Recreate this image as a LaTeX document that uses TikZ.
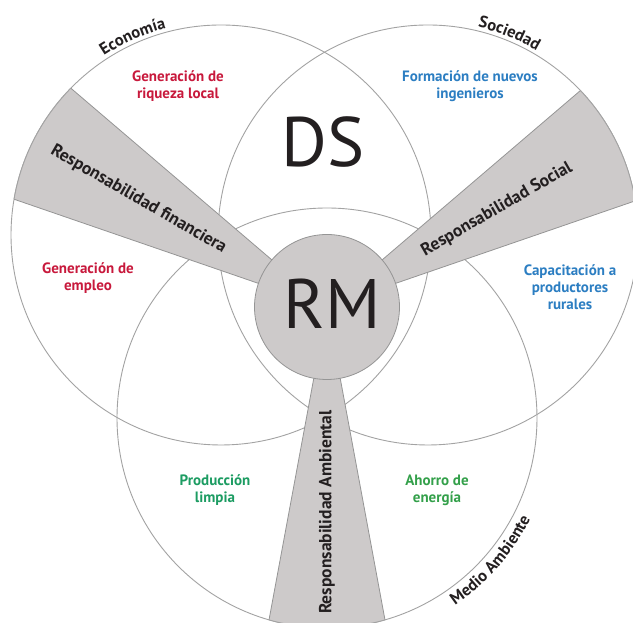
\documentclass[tikz,border=0pt]{standalone}
\usepackage{fontspec}
\setmainfont{PT Sans}
\usetikzlibrary{calc}
\definecolor{cline}{HTML}{A3A3A3}
\definecolor{wfill}{HTML}{CDCACA}
\definecolor{wline}{HTML}{959595}
\definecolor{tred}{HTML}{C8193C}
\definecolor{tblue}{HTML}{2C7EC2}
\definecolor{tgreenA}{HTML}{1C9C62}
\definecolor{tgreenB}{HTML}{33A04A}
\definecolor{tdark}{HTML}{231F20}
\newdimen\tlw
\newdimen\tlc
\newdimen\tlx
\newdimen\tlo
\newcommand\titlefont{\bfseries\fontsize{16.5}{16.5}\selectfont}
% measure: #1 name, #2 characters; stores centre offset of each character
\newcommand\measurelabel[2]{%
  \global\tlw=0pt
  \foreach \ch in {#2}{\settowidth{\tlx}{\titlefont\ch}\global\advance\tlw by \tlx}%
  \global\tlc=0pt
  \foreach \ch [count=\i] in {#2}{%
    \settowidth{\tlx}{\titlefont\ch}%
    \tlo=\tlc \advance\tlo by 0.5\tlx \advance\tlo by -0.5\tlw
    \expandafter\xdef\csname lbl@#1@\i\endcsname{\the\tlo}%
    \global\advance\tlc by \tlx
  }%
}
% draw: #1 name, #2 centre, #3 radius (number), #4 mid angle, #5 sign (-1 clockwise / +1 ccw), #6 characters
\newcommand\arclabel[6]{%
  \foreach \ch [count=\i] in {#6}{%
    \edef\off{\csname lbl@#1@\i\endcsname}%
    \pgfmathsetmacro\ang{#4 + #5*\off/#3*57.29578}%
    \pgfmathsetmacro\rot{\ang + #5*90}%
    \node[anchor=base, inner sep=0pt, font=\titlefont, text=tdark, rotate=\rot] at ($(#2)+(\ang:#3pt)$) {\ch};
  }%
}
\begin{document}
\measurelabel{eco}{E,c,o,n,o,m,í,a}%
\measurelabel{soc}{S,o,c,i,e,d,a,d}%
\measurelabel{med}{M,e,d,i,o,\ ,A,m,b,i,e,n,t,e}%
\begin{tikzpicture}[x=1pt,y=1pt,
  ring/.style={draw=cline, line width=0.9pt},
  wedgebox/.style={fill=wfill, draw=wline, line width=0.8pt},
  item/.style={font=\bfseries\fontsize{15}{17}\selectfont, align=center, inner sep=0pt},
  band/.style={font=\bfseries\fontsize{17.5}{17.5}\selectfont, text=tdark, inner sep=0pt},
  big/.style={font=\fontsize{70}{70}\selectfont, text=tdark, inner sep=0pt}]
\useasboundingbox (0,0) rectangle (633,623);
\clip (0,0) rectangle (633,623);
\fill[white] (0,0) rectangle (633,623);
\coordinate (E) at (221,388);
\coordinate (S) at (428,388);
\coordinate (M) at (327,205);
\coordinate (A) at (327,316);
% circles
\draw[ring] (E) circle (210pt);
\draw[ring] (S) circle (210pt);
\draw[ring] (M) circle (210pt);
% wedges
\foreach \c/\a/\b in {E/139.5/161, S/19/40.5, M/259.5/280.5} {
  \begin{scope}
    \clip (\c) circle (210pt);
    \filldraw[wedgebox] (A) -- ($(A)+(\a:400pt)$) -- ($(A)+(\b:400pt)$) -- cycle;
  \end{scope}
  \begin{scope}
    \clip (A) -- ($(A)+(\a:400pt)$) -- ($(A)+(\b:400pt)$) -- cycle;
    \draw[ring] (\c) circle (210pt);
  \end{scope}
}
% central circle
\node[circle, minimum size=145pt, fill=wfill, draw=wline, line width=0.8pt, inner sep=0pt] (rm) at (A) {};
\node[big] (rmtext) at (332,319) {RM};
\node[big] (ds) at (323,481) {DS};
% items
\node[item, text=tred] (riqueza) at (178,537) {Generación de\\riqueza local};
\node[item, text=tblue] (ingenieros) at (470,537) {Formación de nuevos\\ingenieros};
\node[item, text=tred] (empleo) at (88,345) {Generación de\\empleo};
\node[item, text=tblue] (capacitacion) at (570,336) {Capacitación a\\productores\\rurales};
\node[item, text=tgreenA] (limpia) at (215,133) {Producción\\limpia};
\node[item, text=tgreenB] (energia) at (437,133) {Ahorro de\\energía};
% band labels
\node[band, rotate=-30] (financiera) at (138.5,423.5) {Responsabilidad financiera};
\node[band, rotate=30] (social) at (497,413.5) {Responsabilidad Social};
\node[band, rotate=90] (ambiental) at (327,111) {Responsabilidad Ambiental};
% curved titles
\arclabel{eco}{E}{214}{114}{-1}{E,c,o,n,o,m,í,a}
\arclabel{soc}{S}{214}{68}{-1}{S,o,c,i,e,d,a,d}
\arclabel{med}{M}{227}{-41}{1}{M,e,d,i,o,\ ,A,m,b,i,e,n,t,e}
\end{tikzpicture}
\end{document}
